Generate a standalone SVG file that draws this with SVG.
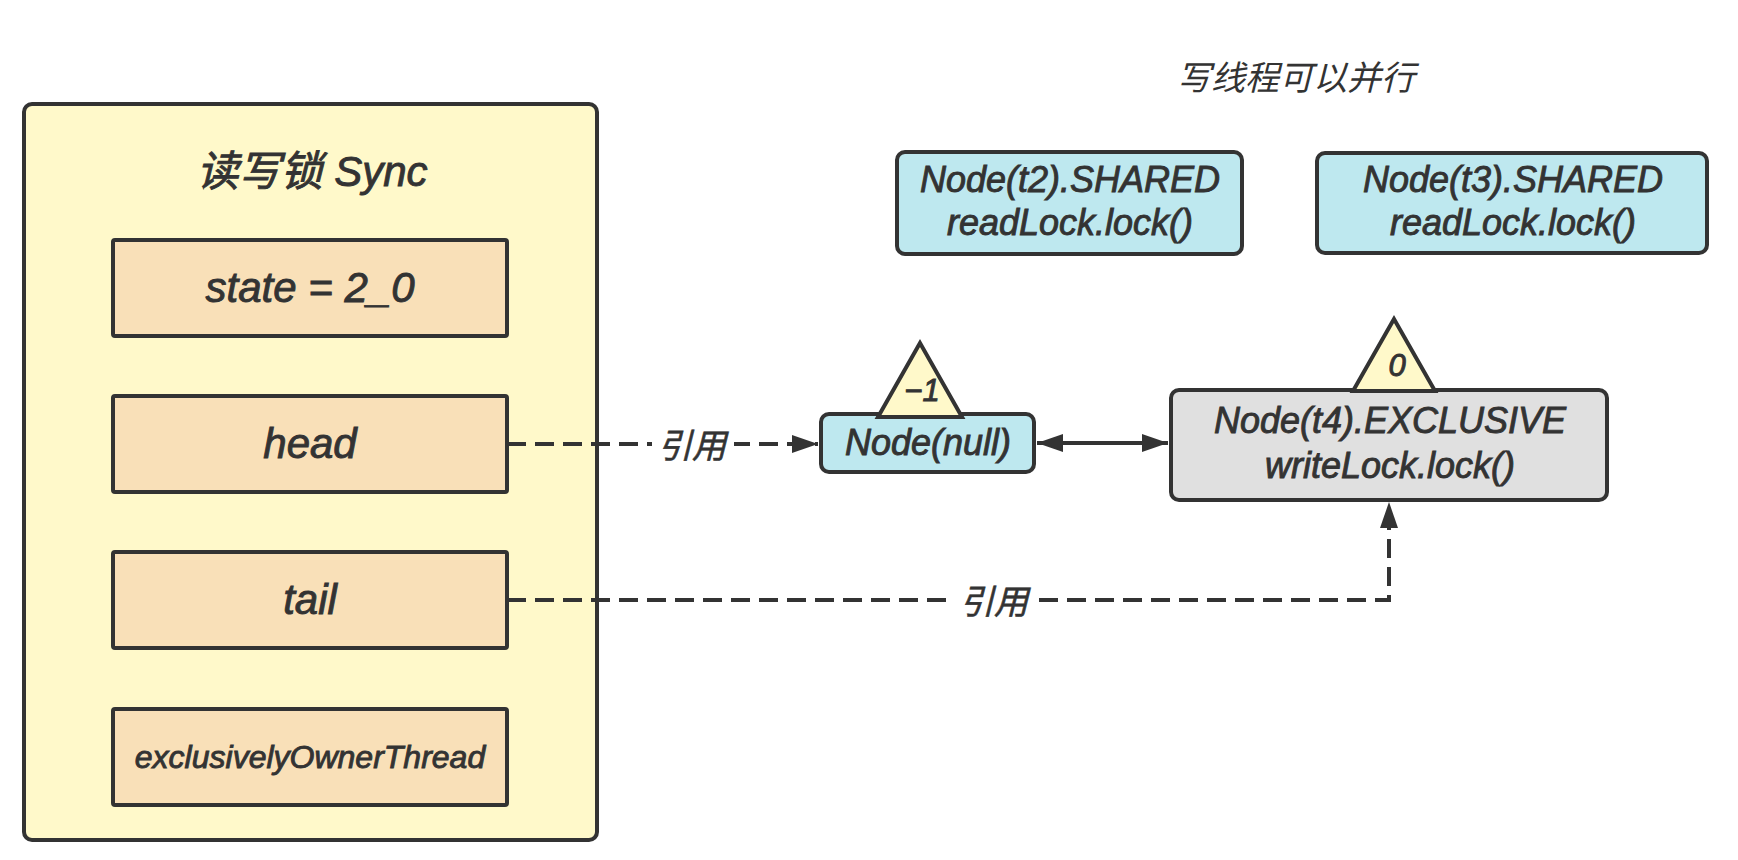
<svg xmlns="http://www.w3.org/2000/svg" width="1738" height="860" viewBox="0 0 1738 860">
<style>
.t{font-family:"Liberation Sans","Noto Sans CJK SC",sans-serif;font-style:italic;fill:#333;text-anchor:middle;stroke:#333;stroke-width:0.9}
.cjk{font-family:"Liberation Sans","Noto Sans CJK SC",sans-serif;font-style:italic;fill:#333;text-anchor:middle}
.lbl{stroke:#333;stroke-width:0.6}
.field{fill:#F9E0B8;stroke:#333;stroke-width:4}
.blue{fill:#BEE8EF;stroke:#333;stroke-width:4}
.tri{fill:#FFF9CA;stroke:#333;stroke-width:4;stroke-linejoin:miter}
.line{fill:none;stroke:#333;stroke-width:4}
.dash{stroke-dasharray:19 9}
</style>
<defs>
<marker id="arr" markerUnits="userSpaceOnUse" markerWidth="26" markerHeight="18" refX="26" refY="9" orient="auto-start-reverse">
<path d="M0,0 L26,9 L0,18 z" fill="#333"/>
</marker>
</defs>
<rect width="1738" height="860" fill="#fff"/>

<g id="sync">
<rect x="24" y="104" width="573" height="736" rx="8" fill="#FFF9CA" stroke="#333" stroke-width="4"/>
<text class="t" x="312" y="186" font-size="42">读写锁 Sync</text>
</g>
<g id="state">
<rect class="field" x="113" y="240" width="394" height="96" rx="2"/>
<text class="t" x="310" y="302" font-size="42">state = 2_0</text>
</g>
<g id="head">
<rect class="field" x="113" y="396" width="394" height="96" rx="2"/>
<text class="t" x="310" y="458" font-size="42">head</text>
</g>
<g id="tail">
<rect class="field" x="113" y="552" width="394" height="96" rx="2"/>
<text class="t" x="310" y="614" font-size="42">tail</text>
</g>
<g id="owner">
<rect class="field" x="113" y="709" width="394" height="96" rx="2"/>
<text class="t" x="310" y="768" font-size="32">exclusivelyOwnerThread</text>
</g>

<g id="caption">
<text class="cjk" x="1296" y="90" font-size="34">写线程可以并行</text>
</g>

<g id="t2">
<rect class="blue" x="897" y="152" width="345" height="102" rx="8"/>
<text class="t" x="1070" y="192" font-size="36">Node(t2).SHARED</text>
<text class="t" x="1070" y="235" font-size="36">readLock.lock()</text>
</g>
<g id="t3">
<rect class="blue" x="1317" y="153" width="390" height="100" rx="8"/>
<text class="t" x="1513" y="192" font-size="36">Node(t3).SHARED</text>
<text class="t" x="1513" y="235" font-size="36">readLock.lock()</text>
</g>

<g id="connectors">
<path class="line dash" d="M507,444 H818" marker-end="url(#arr)"/>
<rect x="652" y="424" width="82" height="42" fill="#fff"/>
<text class="cjk lbl" x="692" y="458" font-size="34">引用</text>
<path class="line" d="M1037,443 H1168" marker-start="url(#arr)" marker-end="url(#arr)"/>
<path class="line dash" d="M507,600 H1389 V502" marker-end="url(#arr)"/>
<rect x="953" y="580" width="80" height="42" fill="#fff"/>
<text class="cjk lbl" x="994" y="614" font-size="34">引用</text>
</g>

<g id="null">
<rect class="blue" x="821" y="414" width="213" height="58" rx="8"/>
<text class="t" x="928" y="455" font-size="36">Node(null)</text>
<polygon class="tri" points="920,343 878,417 962,417"/>
<text class="t" x="922" y="401" font-size="31">−1</text>
</g>
<g id="t4">
<rect x="1171" y="390" width="436" height="110" rx="8" fill="#E0E0E0" stroke="#333" stroke-width="4"/>
<text class="t" x="1390" y="433" font-size="36">Node(t4).EXCLUSIVE</text>
<text class="t" x="1390" y="478" font-size="36">writeLock.lock()</text>
<polygon class="tri" points="1394,319 1353,391 1435,391"/>
<text class="t" x="1397" y="376" font-size="31">0</text>
</g>
</svg>
